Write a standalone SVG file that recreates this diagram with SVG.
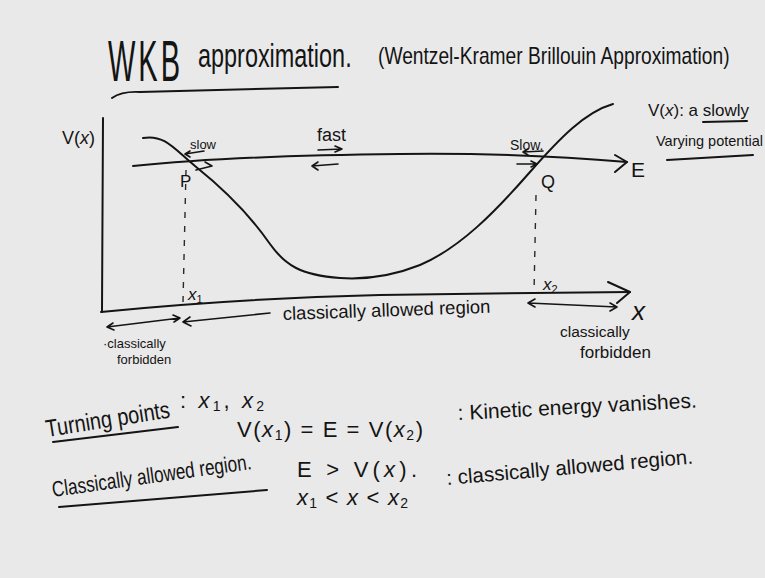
<svg xmlns="http://www.w3.org/2000/svg" width="765" height="578" viewBox="0 0 765 578">
<style>
.bg{fill:#e9e9e9}
.ink{fill:none;stroke:#141414;stroke-width:2;stroke-linecap:round;stroke-linejoin:round}
.thin{fill:none;stroke:#141414;stroke-width:1.6;stroke-linecap:round;stroke-linejoin:round}
.dash{fill:none;stroke:#2a2a2a;stroke-width:1.4;stroke-dasharray:6 8}
text{font-family:"Liberation Sans","DejaVu Sans",sans-serif;fill:#141414}
.m{font-style:italic}
</style>
<rect class="bg" x="0" y="0" width="765" height="578"/>

<g id="title">
<text transform="translate(108 81) scale(0.5 1)" font-size="58" letter-spacing="6">WKB</text>
<text transform="translate(198 67) scale(0.71 1)" font-size="33">approximation.</text>
<path class="ink" d="M112,98 Q122,91 140,92 L338,87"/>
<text transform="translate(378 64) scale(0.8 1)" font-size="24">(Wentzel-Kramer Brillouin Approximation)</text>
</g>

<g id="plot">
<text x="62" y="144" font-size="18">V(<tspan class="m">x</tspan>)</text>
<path class="ink" d="M103,118 L102,312"/>
<path class="ink" d="M101,312 C200,302 300,297 380,295 L533,293 L630,292"/>
<path class="ink" d="M608,282 L630,292 L617,303"/>
<path class="ink" d="M133,166 C200,159 300,155 400,154 C480,153 545,155 627,162"/>
<path class="ink" d="M615,155 L627,162 L615,172"/>
<path class="ink" d="M143,138 C165,134 175,150 195,166 C225,190 250,215 270,244 C285,265 300,275 340,278 C370,280 395,275 420,265 C460,248 495,212 530,172 C560,138 585,112 613,104"/>
<path class="dash" d="M186,170 L183,302"/>
<path class="dash" d="M536,195 L534,293"/>
<text x="180" y="187" font-size="17">P</text>
<text x="541" y="188" font-size="18">Q</text>
<text x="631" y="177" font-size="21">E</text>
<text x="188" y="300" font-size="17" class="m">x<tspan font-size="11" dy="3" font-style="normal">1</tspan></text>
<text x="543" y="290" font-size="17" class="m">x<tspan font-size="11" dy="3" font-style="normal">2</tspan></text>
<text x="632" y="320" font-size="26" class="m">x</text>
<text x="190" y="149" font-size="13">slow</text>
<path class="thin" d="M204,151 L185,154 M190,151 L185,154 L190,157"/>
<path class="thin" d="M196,170 L212,166 L205,162"/>
<text x="317" y="141" font-size="18">fast</text>
<path class="thin" d="M318,150 L342,149 M335,146 L342,149 L335,152"/>
<path class="thin" d="M338,164 L312,166 M318,162 L312,166 L318,170"/>
<text x="510" y="150" font-size="14">Slow.</text>
<path class="thin" d="M543,151 L523,152 M528,149 L523,152 L528,155"/>
<path class="thin" d="M517,164 L537,164 M531,161 L537,164 L531,167"/>
</g>

<g id="regions">
<path class="thin" d="M107,327 L180,318 M113,323 L107,327 L114,330 M173,315 L180,318 L174,322"/>
<path class="thin" d="M270,313 L183,322 M190,317 L183,322 L191,326"/>
<text x="283" y="320" font-size="18.5" transform="rotate(-2 283 320)">classically allowed region</text>
<path class="thin" d="M528,303 L617,307 M535,299 L528,303 L535,307 M610,303 L617,307 L610,311"/>
<text x="103" y="348" font-size="13">·classically</text>
<text x="117" y="364" font-size="13">forbidden</text>
<text x="560" y="337" font-size="15.5">classically</text>
<text x="580" y="358" font-size="17">forbidden</text>
</g>

<g id="potential-note">
<text x="648" y="116" font-size="17">V(<tspan class="m">x</tspan>): a slowly</text>
<path class="ink" d="M703,122 L747,121"/>
<text x="656" y="146" font-size="14.5">Varying potential</text>
<path class="ink" d="M667,160 L753,155"/>
</g>

<g id="notes">
<text transform="translate(47 437) rotate(-9) scale(0.83 1)" font-size="24">Turning points</text>
<path class="ink" d="M53,442 L178,427"/>
<text x="180" y="408" font-size="22" textLength="84" lengthAdjust="spacing">: <tspan class="m">x</tspan><tspan font-size="14" dy="3">1</tspan><tspan dy="-3">, </tspan><tspan class="m">x</tspan><tspan font-size="14" dy="3">2</tspan></text>
<text x="237" y="437" font-size="22" textLength="186" lengthAdjust="spacing">V(<tspan class="m">x</tspan><tspan font-size="14" dy="3">1</tspan><tspan dy="-3">) = E = V(</tspan><tspan class="m">x</tspan><tspan font-size="14" dy="3">2</tspan><tspan dy="-3">)</tspan></text>
<text x="458" y="420" font-size="21" transform="rotate(-3 458 420)">: Kinetic energy vanishes.</text>
<text transform="translate(53 497) rotate(-8) scale(0.78 1)" font-size="22">Classically allowed region.</text>
<path class="ink" d="M59,507 L267,490"/>
<text x="297" y="477" font-size="22" textLength="120" lengthAdjust="spacing">E &gt; V(<tspan class="m">x</tspan>).</text>
<text x="297" y="505" font-size="22" textLength="111" lengthAdjust="spacing"><tspan class="m">x</tspan><tspan font-size="14" dy="3">1</tspan><tspan dy="-3"> &lt; </tspan><tspan class="m">x</tspan> &lt; <tspan class="m">x</tspan><tspan font-size="14" dy="3">2</tspan></text>
<text x="447" y="485" font-size="20.5" transform="rotate(-5 447 485)">: classically allowed region.</text>
</g>
</svg>
